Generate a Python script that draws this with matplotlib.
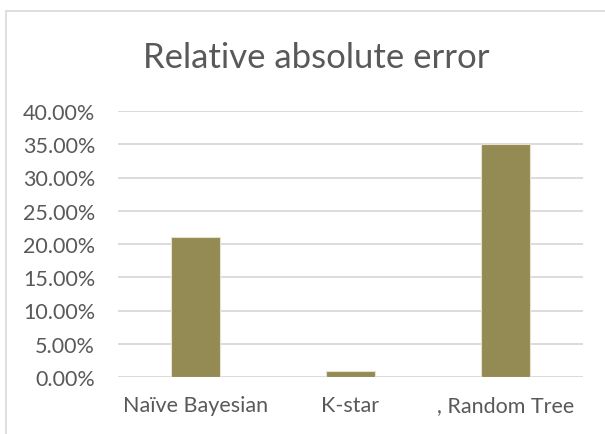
import matplotlib.pyplot as plt
from matplotlib.ticker import PercentFormatter
from matplotlib.patches import Rectangle

categories = ["Naïve Bayesian", "K-star", ", Random Tree"]
values = [0.210, 0.009, 0.350]
yticks = [0.0, 0.05, 0.10, 0.15, 0.20, 0.25, 0.30, 0.35, 0.40]

plt.rcParams['font.family'] = ['Lato', 'DejaVu Sans']

fig = plt.figure(figsize=(6.05, 4.35), dpi=100)
ax = fig.add_axes([118 / 605, 1 - 378 / 435, 465 / 605, 266 / 435])

# chart frame (only top and left visible in the crop)
fig.patches.append(Rectangle((6 / 605, -0.1), 1.2, 1 - 12 / 435 + 0.1,
                             transform=fig.transFigure, fill=False,
                             edgecolor='#d9d9d9', linewidth=1.2))

x = range(len(categories))
ax.bar(x, values, width=0.31, color='#948a54', edgecolor='#e6e2cf',
       linewidth=0.8, zorder=3)

ax.set_xlim(-0.5, 2.5)
ax.set_ylim(0, 0.4)
ax.set_yticks(yticks)
ax.yaxis.set_major_formatter(PercentFormatter(1.0, decimals=2))
ax.set_xticks(list(x))
ax.set_xticklabels(categories)

ax.grid(axis='y', color='#d9d9d9', linewidth=1.3, zorder=0)
for s in ax.spines.values():
    s.set_visible(False)
ax.tick_params(axis='both', length=0, colors='#595959', labelsize=15.5)
ax.tick_params(axis='y', pad=16.5)
ax.tick_params(axis='x', pad=13)

fig.text(316 / 605, 1 - 58 / 435, "Relative absolute error", ha='center',
         va='center', fontsize=25, color='#595959')

fig.savefig("out.png", dpi=100)
